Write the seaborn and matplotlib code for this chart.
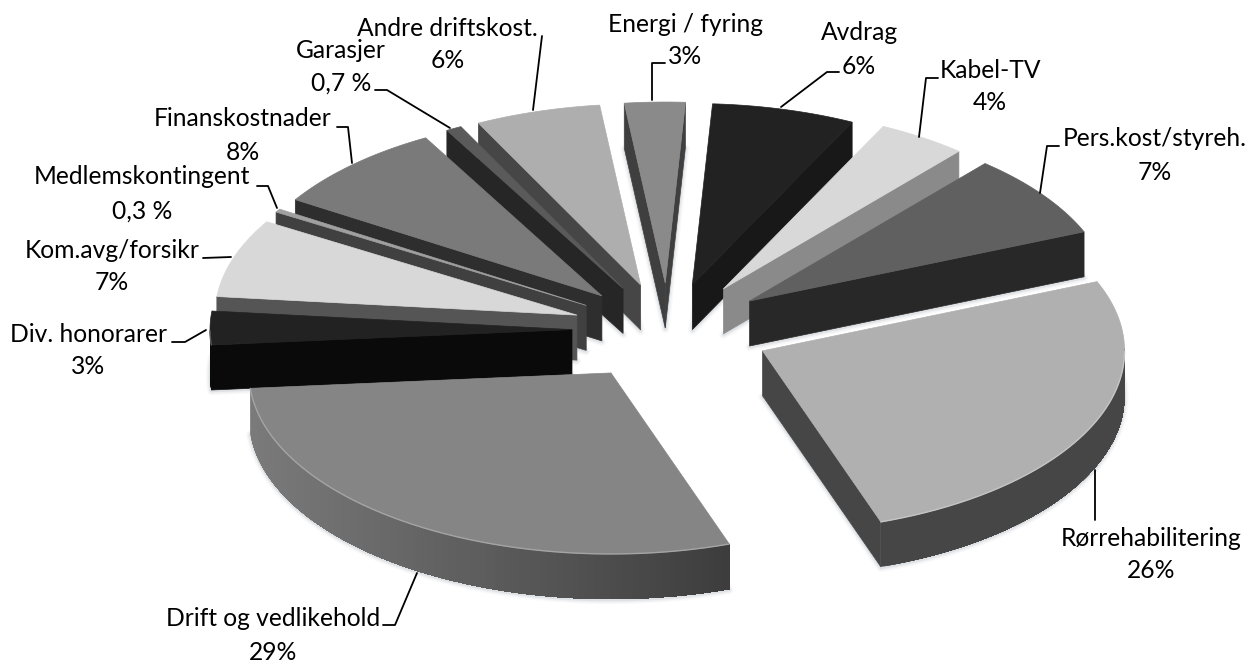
import numpy as np
import matplotlib
matplotlib.use("Agg")
import matplotlib.pyplot as plt
from matplotlib.collections import PolyCollection
import seaborn as sns

# shares, clockwise from the top slice
names = ["Energi / fyring", "Avdrag", "Kabel-TV", "Pers.kost/styreh.", "Rørrehabilitering",
         "Drift og vedlikehold", "Div. honorarer", "Kom.avg/forsikr", "Medlemskontingent",
         "Finanskostnader", "Garasjer", "Andre driftskost."]
shares = [2.7, 6.4, 4.0, 7.5, 26.0, 29.0, 3.0, 7.0, 0.3, 8.0, 0.7, 5.6]
pct_labels = ["3%", "6%", "4%", "7%", "26%", "29%", "3%", "7%", "0,3 %", "8%", "0,7 %", "6%"]

# styling per slice
explode = [1.0, 1.0, 1.05, 1.05, 1.08, 1.09, 1.0, 1.0, 1.0, 1.0, 1.0, 1.0]
top_colors = ["#8a8a8a", "#222222", "#d8d8d8", "#606060", "#b0b0b0", "#858585",
              "#222222", "#d8d8d8", "#a0a0a0", "#7a7a7a", "#5a5a5a", "#aeaeae"]
wall_colors = ["#3f3f3f", "#181818", "#8a8a8a", "#282828", "#464646", "#3c3c3c",
               "#0a0a0a", "#555555", "#404040", "#2e2e2e", "#262626", "#464646"]
arc_left_colors = ["#3f3f3f", "#181818", "#8a8a8a", "#282828", "#464646", "#7a7a7a",
                   "#0a0a0a", "#555555", "#404040", "#2e2e2e", "#262626", "#464646"]

# label placement in pixels
name_xy = [(685, 24), (859, 33), (990, 70), (1155, 139), (1151, 538), (273, 618),
           (88, 334), (112, 251), (142, 177), (243, 119), (341, 50), (447, 28)]
pct_xy = [(685, 56), (859, 66), (990, 103), (1155, 172), (1151, 571), (273, 652),
          (88, 367), (112, 283), (142, 211), (243, 153), (341, 83), (448, 61)]
leaders = [[(652, 100), (652, 63), (665, 63)],
           [(781, 107), (827, 72), (839, 72)],
           [(919, 137), (926, 78), (938, 78)],
           [(1040, 193), (1047, 146), (1059, 146)],
           [(1095, 470), (1095, 520)],
           [(417, 573), (395, 625), (383, 625)],
           [(206, 330), (185, 342), (172, 342)],
           [(231, 257), (203, 258)],
           [(277, 208), (268, 186), (257, 186)],
           [(352, 163), (348, 127), (337, 127)],
           [(450, 128), (387, 90), (375, 90)],
           [(533, 110), (542, 36)]]

CX, CY = 668, 330       # pie centre in pixels
RX, RY = 362, 181       # slice radius
EX, EY = 96, 47         # explosion offset
DEPTH = 45
START = -6.5


def project(theta):
    t = np.radians(theta)
    return np.sin(t) * RX, -np.cos(t) * RY


sns.set_theme(style="white")
plt.rcParams["font.family"] = ["Lato", "DejaVu Sans"]

fig, ax = plt.subplots(figsize=(12.56, 6.61), dpi=100)
ax.set_position([0, 0, 1, 1])
ax.set_xlim(0, 1256)
ax.set_ylim(661, 0)
ax.axis("off")

angles = START + 360 * np.cumsum([0] + shares) / np.sum(shares)
slices = []
for i in range(len(names)):
    a0, a1 = angles[i], angles[i + 1]
    mid = np.radians((a0 + a1) / 2)
    ox = CX + EX * explode[i] * np.sin(mid)
    oy = CY - EY * explode[i] * np.cos(mid)
    th = np.linspace(a0, a1, max(4, int(a1 - a0) * 2))
    px, py = project(th)
    slices.append(dict(i=i, a0=a0, a1=a1, ox=ox, oy=oy, th=th,
                       ax=ox + px, ay=oy + py, depth=-np.cos(mid)))

# soft shadow round the foot of every slice
for s in slices:
    foot_x = np.r_[s["ox"], s["ax"]]
    foot_y = np.r_[s["oy"], s["ay"]] + DEPTH + 1
    for lw, alpha in [(6, 0.04), (4, 0.07), (2, 0.12)]:
        ax.fill(foot_x, foot_y, facecolor="none", edgecolor="#6f7f8c", lw=lw, alpha=alpha,
                joinstyle="round", zorder=1)

# back slices first
for z, s in enumerate(sorted(slices, key=lambda v: v["depth"])):
    i = s["i"]
    zo = 2 + z
    ox, oy = s["ox"], s["oy"]

    # outer wall as one strip per colour step, each running on under the next so no seams show
    show = np.where(np.cos(np.radians(s["th"])) < 0.02)[0]
    if len(show) > 1:
        wx, wy = s["ax"][show], s["ay"][show]
        ramp = sns.blend_palette([arc_left_colors[i], wall_colors[i]], n_colors=64)
        quads, quad_colors = [], []
        order = np.argsort(wx)
        wx, wy = wx[order], wy[order]
        for k in range(len(wx) - 1):
            xs = np.r_[wx[k:], wx[k:][::-1]]
            ys = np.r_[wy[k:], wy[k:][::-1] + DEPTH]
            quads.append(np.column_stack([xs, ys]))
            t = (wx[k] - wx[0]) / max(1, wx[-1] - wx[0])
            quad_colors.append(ramp[int(t * 63)])
        ax.add_collection(PolyCollection(quads, facecolors=quad_colors, edgecolors="none", zorder=zo))

    # radial walls that face down
    if np.sin(np.radians(s["a0"])) < 0:
        ax.fill([ox, s["ax"][0], s["ax"][0], ox], [oy, s["ay"][0], s["ay"][0] + DEPTH, oy + DEPTH],
                color=wall_colors[i], lw=0.5, zorder=zo)
    if np.sin(np.radians(s["a1"])) > 0:
        ax.fill([ox, s["ax"][-1], s["ax"][-1], ox], [oy, s["ay"][-1], s["ay"][-1] + DEPTH, oy + DEPTH],
                color=wall_colors[i], lw=0.5, zorder=zo)

    # top face and a pale rim along the front edge
    ax.fill(np.r_[ox, s["ax"]], np.r_[oy, s["ay"]], color=top_colors[i], lw=0.5, zorder=zo)
    rim = sns.blend_palette([top_colors[i], "#ffffff"], n_colors=5)[1]
    front = np.cos(np.radians(s["th"])) < 0
    ax.plot(s["ax"][front], s["ay"][front], color=rim, lw=1.0, zorder=zo, solid_capstyle="round")

for i, pts in enumerate(leaders):
    xs, ys = zip(*pts)
    ax.plot(xs, ys, color="black", lw=1.3, zorder=40)
    ax.text(*name_xy[i], names[i], ha="center", va="center", fontsize=17.7, color="black", zorder=41)
    ax.text(*pct_xy[i], pct_labels[i], ha="center", va="center", fontsize=17.7, color="black", zorder=41)

fig.savefig("out.png", dpi=100, facecolor="white")
